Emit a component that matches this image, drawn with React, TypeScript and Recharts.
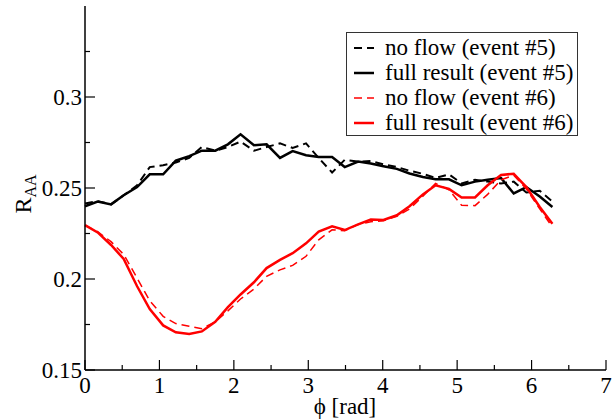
import React from 'react';
import { LineChart, Line, XAxis, YAxis, Legend } from 'recharts';

// azimuthal angle grid, 0 .. 2pi
const phi = [
  0, 0.17, 0.35, 0.52, 0.7, 0.87, 1.05, 1.22, 1.4, 1.57, 1.75, 1.92, 2.09, 2.27, 2.44, 2.62, 2.79, 2.97, 3.14,
  3.32, 3.49, 3.67, 3.84, 4.01, 4.19, 4.36, 4.54, 4.71, 4.89, 5.06, 5.24, 5.41, 5.59, 5.76, 5.93, 6.11, 6.28,
];

const noFlow5 = [
  0.2415, 0.2428, 0.241, 0.246, 0.2515, 0.2615, 0.2625, 0.264, 0.2665, 0.2725, 0.2705, 0.2725, 0.2755, 0.2705,
  0.2725, 0.2745, 0.272, 0.2745, 0.2665, 0.2585, 0.2655, 0.2645, 0.2648, 0.263, 0.2615, 0.2595, 0.2578, 0.2555,
  0.2575, 0.2525, 0.2545, 0.2535, 0.2525, 0.2535, 0.2475, 0.2485, 0.2425,
];
const full5 = [
  0.24, 0.2425, 0.241, 0.246, 0.2505, 0.2575, 0.2575, 0.265, 0.2675, 0.2705, 0.2705, 0.274, 0.2795, 0.2735,
  0.274, 0.2665, 0.2703, 0.268, 0.267, 0.267, 0.2615, 0.2645, 0.2635, 0.262, 0.2605, 0.258, 0.256, 0.2548,
  0.2548, 0.2515, 0.2535, 0.2545, 0.2555, 0.247, 0.2505, 0.2453, 0.2396,
];
const noFlow6 = [
  0.2295, 0.226, 0.2205, 0.2135, 0.2005, 0.188, 0.1795, 0.1755, 0.174, 0.1727, 0.1765, 0.1825, 0.189, 0.1945,
  0.2015, 0.205, 0.2075, 0.2125, 0.2215, 0.227, 0.2265, 0.23, 0.2315, 0.232, 0.2345, 0.2385, 0.2455, 0.2525,
  0.249, 0.2405, 0.2403, 0.2465, 0.2545, 0.257, 0.2495, 0.2385, 0.2285,
];
const full6 = [
  0.2296, 0.2256, 0.2187, 0.211, 0.196, 0.1835, 0.1745, 0.1707, 0.1698, 0.1712, 0.1765, 0.1845, 0.1915, 0.1982,
  0.206, 0.2105, 0.2142, 0.2196, 0.226, 0.229, 0.2269, 0.23, 0.2327, 0.2324, 0.235, 0.24, 0.2465, 0.2515,
  0.2495, 0.2448, 0.2448, 0.2515, 0.2572, 0.2578, 0.2505, 0.2396, 0.2303,
];

const xTicks = [0, 0.5, 1, 1.5, 2, 2.5, 3, 3.5, 4, 4.5, 5, 5.5, 6, 6.5, 7];
const yTicks = [0.15, 0.175, 0.2, 0.225, 0.25, 0.275, 0.3, 0.325];
const yMajor = [0.15, 0.2, 0.25, 0.3];

const series = [
  { key: 'nf5', name: 'no flow (event #5)', color: '#000', width: 2, dash: '8 5' },
  { key: 'fr5', name: 'full result (event #5)', color: '#000', width: 2.5, dash: undefined },
  { key: 'nf6', name: 'no flow (event #6)', color: '#ff0000', width: 1.5, dash: '8 5' },
  { key: 'fr6', name: 'full result (event #6)', color: '#ff0000', width: 2.5, dash: undefined },
];

const data = phi.map((p, i) => ({ phi: p, nf5: noFlow5[i], fr5: full5[i], nf6: noFlow6[i], fr6: full6[i] }));

const FONT = 'Liberation Serif';

const XTick = (props: any) => {
  const { x, y, payload } = props;
  const major = Number.isInteger(payload.value);
  return (
    <g>
      <line x1={x} x2={x} y1={y} y2={y - (major ? 10 : 5)} stroke="#000" strokeWidth={1.2} />
      {major && (
        <text x={x} y={y + 23} textAnchor="middle" style={{ fontFamily: FONT }} fontSize={23} fill="#000">
          {payload.value}
        </text>
      )}
    </g>
  );
};

const YTickLeft = (props: any) => {
  const { x, y, payload } = props;
  const major = yMajor.some((v) => Math.abs(v - payload.value) < 1e-6);
  return (
    <g>
      <line x1={x} x2={x + (major ? 10 : 5)} y1={y} y2={y} stroke="#000" strokeWidth={1.2} />
      {major && (
        <text x={x - 3} y={y + 8} textAnchor="end" style={{ fontFamily: FONT }} fontSize={23} fill="#000">
          {payload.value}
        </text>
      )}
    </g>
  );
};

const YTickRight = (props: any) => {
  const { x, y, payload } = props;
  const major = yMajor.some((v) => Math.abs(v - payload.value) < 1e-6);
  return <line x1={x} x2={x - (major ? 10 : 5)} y1={y} y2={y} stroke="#000" strokeWidth={1.2} />;
};

const LegendBox = () => (
  <div
    style={{
      border: '1.5px solid #333',
      background: '#fff',
      width: 232,
      height: 104,
      boxSizing: 'border-box',
      paddingTop: 2,
      fontFamily: FONT,
      fontSize: 23,
    }}
  >
    {series.map((s) => (
      <div key={s.key} style={{ display: 'flex', alignItems: 'center', height: 25, whiteSpace: 'nowrap' }}>
        <svg width={38} height={25} style={{ flex: 'none' }}>
          <line x1={7} x2={27} y1={13} y2={13} stroke={s.color} strokeWidth={s.width} strokeDasharray={s.dash} />
        </svg>
        <span style={{ lineHeight: '25px' }}>{s.name}</span>
      </div>
    ))}
  </div>
);

export default function App() {
  return (
    <div style={{ position: 'absolute', left: 0, top: 0, width: 613, height: 420, background: '#fff', fontFamily: FONT }}>
      <LineChart width={613} height={420} data={data} margin={{ top: 6, right: 7, bottom: 20, left: 0 }}>
        <XAxis
          dataKey="phi"
          type="number"
          domain={[0, 7]}
          ticks={xTicks}
          interval={0}
          height={30}
          tickSize={0}
          tickMargin={0}
          tickLine={false}
          tick={<XTick />}
          axisLine={{ stroke: '#000', strokeWidth: 1.5 }}
          label={{
            content: () => (
              <text x={345} y={414} textAnchor="middle" style={{ fontFamily: FONT }} fontSize={23} fill="#000">
                ϕ [rad]
              </text>
            ),
          }}
        />
        <XAxis
          xAxisId="top"
          orientation="top"
          type="number"
          domain={[0, 7]}
          height={0}
          tick={false}
          tickLine={false}
          axisLine={{ stroke: '#000', strokeWidth: 1.5 }}
        />
        <YAxis
          type="number"
          domain={[0.15, 0.35]}
          ticks={yTicks}
          interval={0}
          width={85}
          tickSize={0}
          tickMargin={0}
          tickLine={false}
          tick={<YTickLeft />}
          allowDataOverflow
          axisLine={{ stroke: '#000', strokeWidth: 1.5 }}
          label={{
            content: () => (
              <text
                x={31}
                y={194}
                transform="rotate(-90, 31, 194)"
                textAnchor="middle"
                style={{ fontFamily: FONT }}
                fontSize={24}
                fill="#000"
              >
                R
                <tspan fontSize={16} dy={5}>
                  AA
                </tspan>
              </text>
            ),
          }}
        />
        <YAxis
          yAxisId="right"
          orientation="right"
          type="number"
          domain={[0.15, 0.35]}
          ticks={yTicks}
          interval={0}
          width={0}
          tickSize={0}
          tickMargin={0}
          tickLine={false}
          tick={<YTickRight />}
          allowDataOverflow
          axisLine={{ stroke: '#000', strokeWidth: 1.5 }}
        />
        <Legend
          layout="vertical"
          align="center"
          verticalAlign="middle"
          content={<LegendBox />}
          wrapperStyle={{ left: 346, top: 32, width: 232, height: 104 }}
        />
        {series.map((s) => (
          <Line
            key={s.key}
            dataKey={s.key}
            name={s.name}
            type="linear"
            stroke={s.color}
            strokeWidth={s.width}
            strokeDasharray={s.dash}
            dot={false}
            activeDot={false}
            isAnimationActive={false}
          />
        ))}
      </LineChart>
    </div>
  );
}
